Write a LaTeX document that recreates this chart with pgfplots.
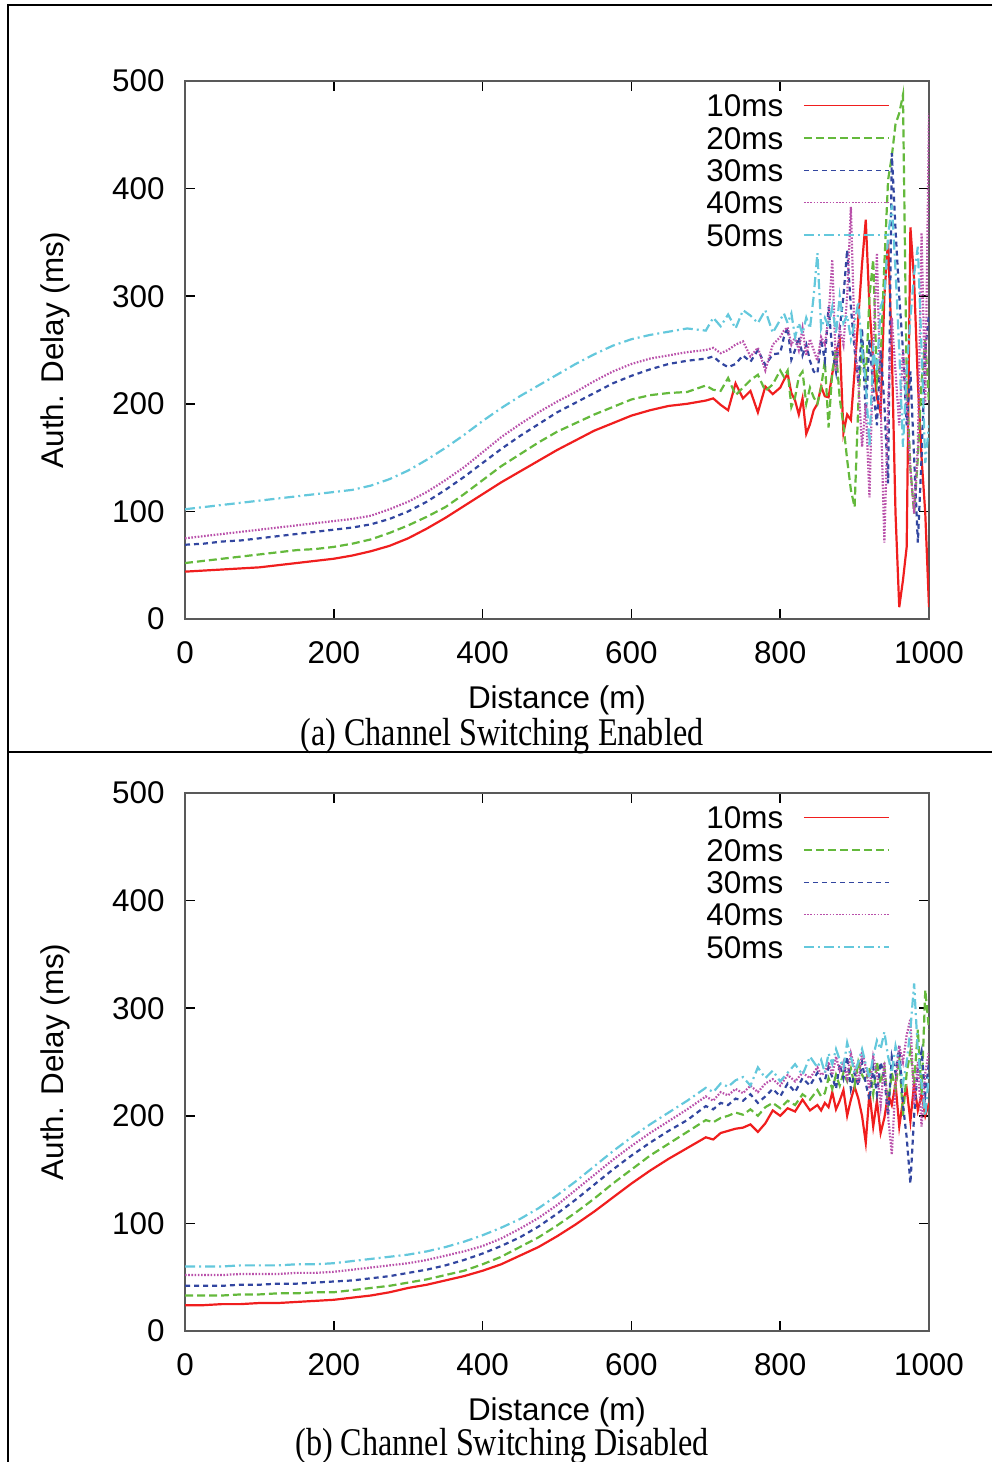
\documentclass[border=0pt]{standalone}
\usepackage{pgfplots}
\pgfplotsset{compat=1.18}
\usepackage{pgfplotstable}
\usepackage{graphicx}
\usepackage{fontspec}
\setmainfont{Liberation Serif}
\newfontfamily\helv{Liberation Sans}
\newcommand\lbl{\helv\fontsize{15.7}{18}\selectfont}

\definecolor{lineRed}{RGB}{240,30,30}
\definecolor{lineGreen}{RGB}{100,185,60}
\definecolor{lineBlue}{RGB}{50,70,160}
\definecolor{lineMag}{RGB}{185,80,170}
\definecolor{lineCyan}{RGB}{100,200,220}

% d r g b m c  (Channel Switching Enabled)
\pgfplotstableread{
d r g b m c
0 44 52 69 75 102
25 45 54 70 77 104
50 46 56 72 79 106
75 47 58 73 81 108
100 48 60 75 83 110
125 50 62 77 85 112
150 52 64 79 87 114
175 54 65 81 89 116
200 56 67 83 91 118
225 59 70 85 93 120
250 63 74 88 96 124
275 68 80 93 102 130
300 75 87 100 109 138
325 84 95 109 118 148
350 94 104 120 129 159
375 105 116 132 141 171
400 116 129 145 155 184
425 127 142 158 169 196
450 137 153 170 181 207
475 147 164 181 192 217
500 157 174 192 202 227
525 166 182 201 211 237
550 175 190 210 221 246
575 182 197 219 230 254
600 189 204 226 237 260
625 194 208 232 242 264
650 198 210 237 245 267
675 200 211 240 248 270
700 203 217 242 250 268
710 205 213 244 252 280
720 199 212 238 247 272
730 194 224 234 250 283
740 219 208 237 255 270
750 205 215 245 258 287
760 212 222 239 244 282
770 192 227 250 252 275
780 216 212 236 231 287
790 209 218 246 255 266
800 215 231 247 262 278
805 222 225 262 268 284
810 228 231 271 271 275
815 210 197 241 255 284
820 203 206 250 262 262
825 190 225 262 250 275
830 205 230 245 270 265
835 172 200 255 245 280
840 181 215 240 260 270
845 194 206 230 250 300
850 200 200 228 240 340
855 216 215 260 262 270
860 207 240 240 255 280
865 206 178 290 280 272
870 228 230 250 334 290
875 248 250 230 230 265
880 259 205 270 270 300
885 173 180 300 255 275
890 190 148 343 300 282
895 185 120 290 383 260
900 230 104 250 260 275
905 280 200 220 220 295
910 330 260 270 160 250
915 371 220 190 200 220
920 290 300 260 113 160
925 240 334 215 250 250
930 206 220 180 340 230
935 191 240 250 200 290
940 300 330 200 71 300
945 352 408 126 200 355
950 250 430 433 280 385
955 98 460 362 230 324
960 11 470 300 180 250
965 36 487 250 250 160
970 67 222 180 200 230
975 364 140 230 140 280
980 315 98 150 98 320
985 220 150 71 160 346
990 150 220 150 359 250
995 98 260 250 200 145
1000 11 200 284 470 180
}\tabA

% d r g b m c  (Channel Switching Disabled)
\pgfplotstableread{
d r g b m c
0 24 33 42 52 60
25 24 33 42 52 60
50 25 33 42 52 60
75 25 34 43 53 61
100 26 34 43 53 61
125 26 35 44 53 61
150 27 35 44 54 62
175 28 36 45 54 62
200 29 36 46 55 63
225 31 38 47 57 65
250 33 40 49 59 67
275 36 42 51 61 69
300 40 45 54 63 71
325 43 48 57 66 74
350 47 52 61 70 78
375 51 56 66 74 83
400 56 62 72 79 89
425 62 69 79 86 96
450 70 78 87 95 104
475 78 87 97 105 114
500 88 98 109 117 126
525 99 110 122 131 139
550 111 123 136 145 153
575 124 137 150 159 167
600 137 150 163 172 180
625 149 163 175 184 192
650 160 174 186 195 203
675 170 185 196 206 214
700 180 196 209 218 226
710 178 194 206 214 222
720 184 198 212 222 230
730 186 200 210 219 227
740 188 203 216 225 233
750 189 201 214 221 236
760 192 206 220 228 228
770 185 200 212 222 245
780 193 208 218 230 235
790 205 212 225 234 242
800 200 207 218 228 232
810 207 214 230 238 240
820 204 210 222 232 248
830 215 220 235 240 238
840 205 215 228 235 255
850 210 224 240 245 245
855 205 218 232 238 252
860 212 221 233 240 240
865 208 235 245 250 258
870 222 225 236 238 248
875 206 238 225 255 262
880 214 228 248 242 252
885 224 240 235 250 245
890 200 232 255 235 268
895 215 244 225 258 255
900 227 228 240 245 240
905 216 250 228 230 250
910 200 238 250 260 262
915 175 232 230 245 248
920 222 245 215 225 235
925 190 220 245 255 255
930 214 250 220 240 270
935 184 230 250 210 262
940 198 245 235 250 278
945 220 210 200 200 255
950 210 240 255 164 240
955 230 225 240 230 265
960 190 255 265 265 250
965 214 200 210 250 230
970 225 240 180 275 250
975 195 260 137 290 280
980 230 230 200 210 323
985 205 280 245 250 260
990 220 220 260 190 230
995 200 317 220 240 200
1000 212 280 250 260 240
}\tabB

\tikzset{
  serone/.style={draw=lineRed, line width=1.1pt},
  sertwo/.style={draw=lineGreen, line width=1.1pt, dash pattern=on 4pt off 2pt},
  serthree/.style={draw=lineBlue, line width=1.1pt, dash pattern=on 2.5pt off 2pt},
  serfour/.style={draw=lineMag, line width=1.1pt, dash pattern=on 0.8pt off 0.8pt},
  serfive/.style={draw=lineCyan, line width=1.1pt, dash pattern=on 5pt off 2pt on 1pt off 2pt},
}

\pgfplotsset{
  myaxis/.style={
    scale only axis, width=372pt, height=269pt,
    xmin=0, xmax=1000, ymin=0, ymax=500,
    xtick={0,200,...,1000}, ytick={0,100,...,500},
    tick align=inside, tick pos=both,
    major tick length=5pt,
    axis line style={draw=black!65, line width=1pt},
    every tick/.style={black, line width=0.8pt},
    tick label style={font=\lbl},
    /pgf/number format/assume math mode=true,
    /pgf/number format/1000 sep={},
    yticklabel style={inner sep=0pt, xshift=-10pt},
    xticklabel style={inner sep=0pt, yshift=-11pt},
    xlabel={Distance (m)}, ylabel={Auth. Delay (ms)},
    label style={font=\lbl},
    xlabel style={at={(axis description cs:0.5,-0.1506)}, anchor=center},
    ylabel style={at={(axis description cs:-0.1747,0.5)}, anchor=center},
    legend plot pos=right,
    legend cell align=right,
    legend style={draw=none, fill=none, inner sep=0pt,
      at={(axis description cs:0.9476,1.0358)}, anchor=north east,
      font=\lbl, row sep=4.95pt, column sep=10pt,
      nodes={inner sep=0pt, text height=11.2pt, text depth=0pt}},
  },
  legone/.style={legend image code/.code={\draw[draw=lineRed, color=lineRed, line width=0.7pt] (0pt,0pt) -- (42.5pt,0pt);}},
  legtwo/.style={legend image code/.code={\draw[lineGreen, line width=0.7pt, dash pattern=on 4pt off 2pt] (0pt,0pt) -- (42.5pt,0pt);}},
  legthree/.style={legend image code/.code={\draw[lineBlue, line width=0.7pt, dash pattern=on 2.5pt off 2pt] (0pt,0pt) -- (42.5pt,0pt);}},
  legfour/.style={legend image code/.code={\draw[lineMag, line width=0.7pt, dash pattern=on 0.8pt off 0.8pt] (0pt,0pt) -- (42.5pt,0pt);}},
  legfive/.style={legend image code/.code={\draw[lineCyan, line width=0.7pt, dash pattern=on 5pt off 2pt on 1pt off 2pt] (0pt,0pt) -- (42.5pt,0pt);}},
}

\begin{document}
\begin{tikzpicture}
\useasboundingbox (0,0) rectangle (496pt,731pt);
\draw[black, line width=1pt] (496pt,728.5pt) -- (4pt,728.5pt) -- (4pt,0pt);
\draw[black, line width=1pt] (4pt,355pt) -- (496pt,355pt);

\begin{axis}[myaxis, at={(92.5pt,421.5pt)}, anchor=south west]
\addlegendimage{empty legend} \addlegendentry{}
\addlegendimage{legone} \addlegendentry{10ms}
\addlegendimage{legtwo} \addlegendentry{20ms}
\addlegendimage{legthree} \addlegendentry{30ms}
\addlegendimage{legfour} \addlegendentry{40ms}
\addlegendimage{legfive} \addlegendentry{50ms}
\addplot[serone, forget plot] table[x=d,y=r] {\tabA};
\addplot[sertwo, forget plot] table[x=d,y=g] {\tabA};
\addplot[serthree, forget plot] table[x=d,y=b] {\tabA};
\addplot[serfour, forget plot] table[x=d,y=m] {\tabA};
\addplot[serfive, forget plot] table[x=d,y=c] {\tabA};
\end{axis}

\begin{axis}[myaxis, at={(92.5pt,65.5pt)}, anchor=south west]
\addlegendimage{empty legend} \addlegendentry{}
\addlegendimage{legone} \addlegendentry{10ms}
\addlegendimage{legtwo} \addlegendentry{20ms}
\addlegendimage{legthree} \addlegendentry{30ms}
\addlegendimage{legfour} \addlegendentry{40ms}
\addlegendimage{legfive} \addlegendentry{50ms}
\addplot[serone, forget plot] table[x=d,y=r] {\tabB};
\addplot[sertwo, forget plot] table[x=d,y=g] {\tabB};
\addplot[serthree, forget plot] table[x=d,y=b] {\tabB};
\addplot[serfour, forget plot] table[x=d,y=m] {\tabB};
\addplot[serfive, forget plot] table[x=d,y=c] {\tabB};
\end{axis}

\node[anchor=base, inner sep=0pt, font=\fontsize{19.6}{22}\selectfont] at (251pt,358pt) {\scalebox{0.82}[1]{(a) Channel Switching Enabled}};
\node[anchor=base, inner sep=0pt, font=\fontsize{19.6}{22}\selectfont] at (251pt,3pt) {\scalebox{0.82}[1]{(b) Channel Switching Disabled}};
\end{tikzpicture}
\end{document}
